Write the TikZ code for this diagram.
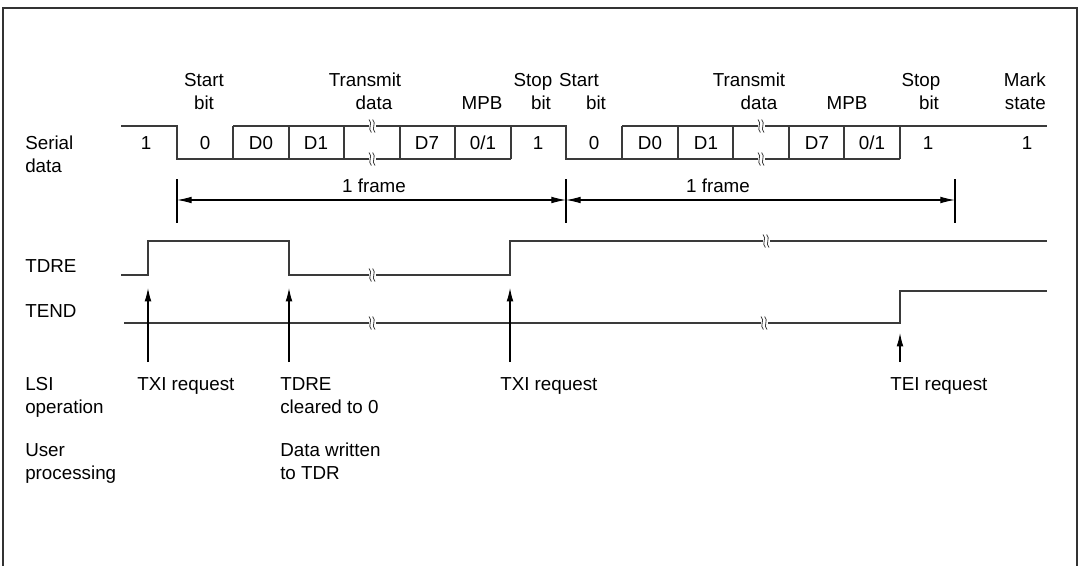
\documentclass[tikz,border=0pt]{standalone}
\usepackage{fontspec}
\setmainfont{Liberation Sans}
\usepackage{xcolor}
\usetikzlibrary{arrows.meta}
\definecolor{wavegray}{HTML}{3A3A3A}
\definecolor{framegray}{HTML}{333333}

\begin{document}
\begin{tikzpicture}[x=0.75pt, y=-0.75pt,
    lbl/.style={font=\fontsize{14.1}{17.25}\selectfont, inner sep=0pt, anchor=base},
    lblw/.style={lbl, anchor=base west, align=left},
    wave/.style={draw=wavegray, line width=1pt},
    ptr/.style={draw=black, line width=0.8pt, -{Latex[length=10pt,width=5pt]}},
    span/.style={draw=black, line width=0.8pt, {Latex[length=11pt,width=5pt]}-{Latex[length=11pt,width=5pt]}},
    brk/.pic={
        \fill[white] (-3.5,-7) rectangle (3.5,7);
        \foreach \o in {-1.8,1.8}
            \draw[wavegray, line width=0.6pt] (\o-1.2,-6.5) .. controls (\o+3.2,-2.5) and (\o-3.2,2.5) .. (\o+1.2,6.5);
    }
]
\useasboundingbox (0,0) rectangle (1080,566);
\draw[framegray, line width=1.2pt] (3,600) -- (3,8) -- (1077,8) -- (1077,600);

% serial data
\node[lblw] (serial) at (25,173) {Serial\\data};
\foreach \x/\y/\t [count=\i] in {204/87/Start, 204/110/bit, 365/87/Transmit, 374/110/data, 482/110/MPB,
    533/87/Stop, 541/110/bit, 579/87/Start, 596/110/bit, 749/87/Transmit, 759/110/data,
    847/110/MPB, 921/87/Stop, 929/110/bit}
    \node[lbl] (hd\i) at (\x,\y) {\t};
\node[lbl, anchor=base east, align=right] (mark) at (1046,110) {Mark\\state};

\draw[wave] (121,126) -- (177,126) -- (177,159) -- (511,159);
\draw[wave] (233,126) -- (566,126) -- (566,159) -- (900,159);
\draw[wave] (622,126) -- (1047,126);
\foreach \x in {233,289,344,400,455,511,622,678,733,789,844,900}
    \draw[wave] (\x,126) -- (\x,159);
\foreach \x/\t [count=\i] in {146/1, 205/0, 261/D0, 316/D1, 427/D7, 483/{0/1}, 538/1,
    594/0, 650/D0, 706/D1, 817/D7, 872/{0/1}, 928/1, 1027/1}
    \node[lbl] (bit\i) at (\x,150) {\t};
\foreach \x in {372,761} {
    \pic at (\x,126) {brk};
    \pic at (\x,159) {brk};
}

% frames
\coordinate (fA) at (177,200);
\coordinate (fB) at (566,200);
\coordinate (fC) at (955,200);
\foreach \p in {fA,fB,fC}
    \draw[line width=0.8pt] ([yshift=-17]\p) -- ([yshift=16]\p);
\draw[span] (fA) -- (fB);
\draw[span] (fB) -- (fC);
\node[lbl] (frame1) at (374,193) {1 frame};
\node[lbl] (frame2) at (718,193) {1 frame};

% flags
\node[lblw] (tdre) at (25,273) {TDRE};
\node[lblw] (tend) at (25,317) {TEND};
\draw[wave] (121,275) -- (148,275) -- (148,241) -- (289,241) -- (289,275) -- (510,275) -- (510,241) -- (1047,241);
\draw[wave] (124,323) -- (900,323) -- (900,291) -- (1047,291);
\pic at (372,275) {brk};
\pic at (766,241) {brk};
\pic at (372,323) {brk};
\pic at (764,323) {brk};

% requests
\foreach \x/\n in {148/txiA, 289/clr, 510/txiB} {
    \coordinate (\n) at (\x,362);
    \coordinate (\n top) at (\x,288);
    \draw[ptr] (\n) -- (\n top);
}
\coordinate (tei) at (900,362);
\coordinate (tei top) at (900,333);
\draw[ptr] (tei) -- (tei top);

\node[lblw] (lsi) at (25,413) {LSI\\operation};
\node[lblw] (user) at (25,479) {User\\processing};
\node[lblw] (txi1) at (137,390) {TXI request};
\node[lblw] (clr0) at (280,413) {TDRE\\cleared to 0};
\node[lblw] (wr) at (280,479) {Data written\\to TDR};
\node[lblw] (txi2) at (500,390) {TXI request};
\node[lblw] (tei1) at (890,390) {TEI request};
\end{tikzpicture}
\end{document}
